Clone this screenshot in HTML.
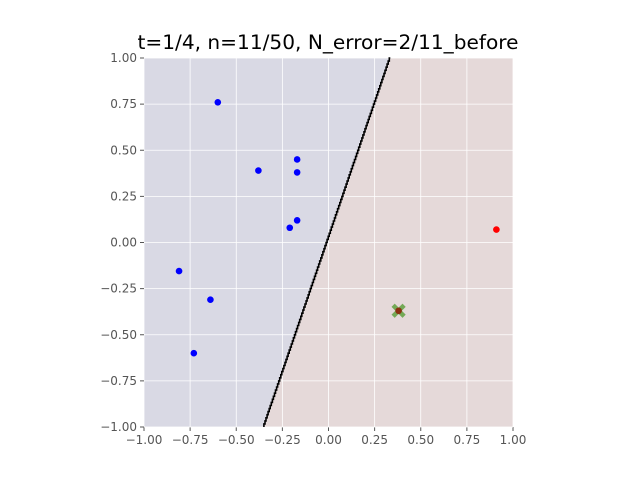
<!DOCTYPE html>
<html><head><meta charset="utf-8"><style>
body{margin:0;background:#fff;}
svg{display:block;font-family:"DejaVu Sans","Liberation Sans",sans-serif;}
</style></head><body>
<svg width="640" height="480">
<text x="328" y="49" text-anchor="middle" font-size="19.5" textLength="381" lengthAdjust="spacingAndGlyphs">t=1/4, n=11/50, N_error=2/11_before</text>
<g id="plot"></g>
</svg>
<script>
const xTicks=[-1,-0.75,-0.5,-0.25,0,0.25,0.5,0.75,1];
const yTicks=[-1,-0.75,-0.5,-0.25,0,0.25,0.5,0.75,1];
const tickLabels=["−1.00","−0.75","−0.50","−0.25","0.00","0.25","0.50","0.75","1.00"];
const blueX=[-0.60,-0.38,-0.17,-0.17,-0.17,-0.21,-0.81,-0.64,-0.73];
const blueY=[0.76,0.39,0.45,0.38,0.12,0.08,-0.155,-0.31,-0.60];
const redX=[0.91,0.38];
const redY=[0.07,-0.37];
const errX=[0.38];
const errY=[-0.37];
const boundaryX=[-0.35,0.335];
const boundaryY=[-1,1];
const L=144,R=513,T=58,B=427;
const sx=v=>L+(v+1)/2*(R-L), sy=v=>B-(v+1)/2*(B-T);
const g=document.getElementById('plot');const NS='http://www.w3.org/2000/svg';
function mk(t,a,p){const e=document.createElementNS(NS,t);for(const k in a)e.setAttribute(k,a[k]);(p||g).appendChild(e);return e;}
const bx0=sx(boundaryX[0]),bx1=sx(boundaryX[1]),by0=sy(boundaryY[0]),by1=sy(boundaryY[1]);
let e=mk('polygon',{points:`${L},${T} ${bx1},${by1} ${bx0},${by0} ${L},${B}`,fill:'#d9d9e4'});

e=mk('polygon',{points:`${bx1},${by1} ${R},${T} ${R},${B} ${bx0},${by0}`,fill:'#e5d9d9'});

xTicks.forEach((v,i)=>{
 let l=mk('line',{x1:sx(v),x2:sx(v),y1:T,y2:B,stroke:'#fff','stroke-width':0.8});
 
 mk('line',{x1:sx(v),x2:sx(v),y1:B,y2:B+4,stroke:'#555'});
 let t=mk('text',{x:sx(v),y:B+17,'text-anchor':'middle','font-size':12,fill:'#555'});t.textContent=tickLabels[i];
 
});
yTicks.forEach((v,i)=>{
 let l=mk('line',{x1:L,x2:R,y1:sy(v),y2:sy(v),stroke:'#fff','stroke-width':0.8});
 
 mk('line',{x1:L-4,x2:L,y1:sy(v),y2:sy(v),stroke:'#555'});
 let t=mk('text',{x:L-7,y:sy(v)+4,'text-anchor':'end','font-size':12,fill:'#555'});t.textContent=tickLabels[i];
 
});
let pts=[];const n=120;
for(let i=0;i<=n;i++){const y=by0+(by1-by0)*i/n,x=bx0+(bx1-bx0)*i/n;pts.push(`${x.toFixed(1)},${y.toFixed(1)}`);if(i<n){const y2=by0+(by1-by0)*(i+1)/n;pts.push(`${x.toFixed(1)},${y2.toFixed(1)}`);}}
e=mk('polyline',{points:pts.join(' '),fill:'none',stroke:'#000','stroke-width':1.6});

blueX.forEach((v,i)=>{let c=mk('circle',{cx:sx(v),cy:sy(blueY[i]),r:3.3,fill:'#0000ff'});
});
errX.forEach((v,i)=>{const cx=sx(v),cy=sy(errY[i]);let gg=mk('g',{opacity:0.6});

mk('line',{x1:cx-5.5,y1:cy-5.5,x2:cx+5.5,y2:cy+5.5,stroke:'#2a8a00','stroke-width':4.5},gg);
mk('line',{x1:cx-5.5,y1:cy+5.5,x2:cx+5.5,y2:cy-5.5,stroke:'#2a8a00','stroke-width':4.5},gg);});
redX.forEach((v,i)=>{const isErr=errX.includes(v);let c=mk('circle',{cx:sx(v),cy:sy(redY[i]),r:3.3,fill:isErr?'#8b3010':'#ff0000'});
});
</script>
</body></html>
